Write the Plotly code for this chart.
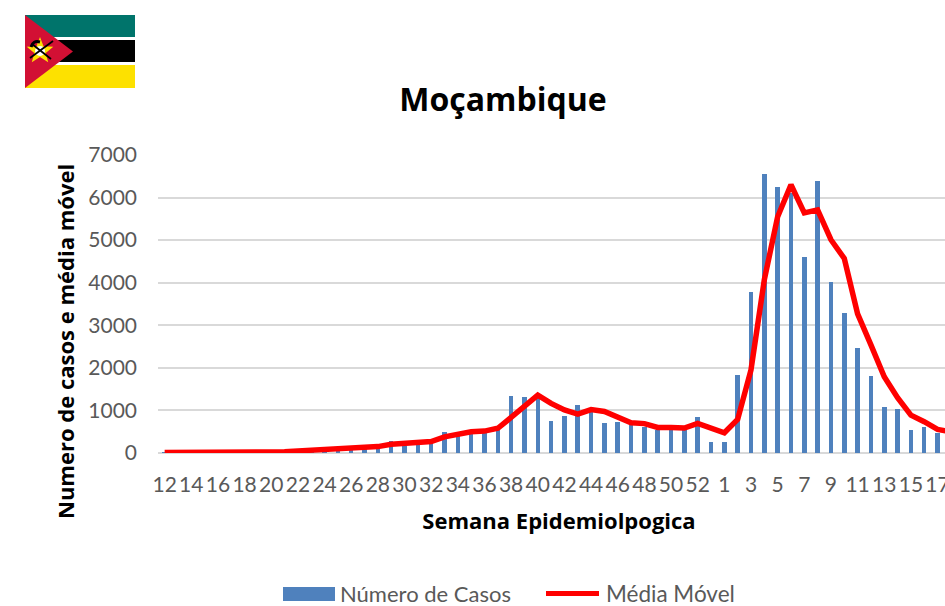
import base64
import plotly.graph_objects as go

weeks = list(range(12, 54)) + list(range(1, 19))
cases = [3, 3, 5, 5, 8, 10, 12, 10, 10, 15, 30, 50, 70, 110, 130, 140, 150, 280, 170, 225, 230,
         490, 420, 500, 500, 540, 1345, 1320, 1320, 760, 870, 1130, 970, 700, 735, 700, 600, 540,
         540, 540, 845, 260, 260, 1840, 3780, 6560, 6250, 6100, 4600, 6400, 4020, 3300, 2470,
         1800, 1080, 1040, 540, 600, 480, 400]
moving_avg = [10, 10, 15, 15, 20, 25, 30, 25, 25, 30, 50, 65, 85, 120, 140, 145, 150, 205, 220,
              245, 270, 380, 450, 500, 515, 580, 835, 1090, 1360, 1165, 1010, 915, 1020, 975, 835,
              710, 690, 600, 600, 585, 695, 580, 475, 790, 1950, 4070, 5550, 6300, 5640, 5710,
              5010, 4570, 3270, 2540, 1790, 1300, 890, 735, 555, 500]
positions = list(range(len(weeks)))
y_ticks = [0, 1000, 2000, 3000, 4000, 5000, 6000, 7000]
series_names = ["Número de Casos", "Média Móvel"]

FONT = "Lato, Carlito, Calibri, sans-serif"
BOLD = "'Open Sans', sans-serif"
GREY = "#595959"
W, H = 960, 606  # the page crops this to the 945 px window, as in the reference
ML, MR, MT, MB = 158, 0, 155, 153
PW, PH = W - ML - MR, H - MT - MB


def px(x):
    return (x - ML) / PW


def py(y):
    return (H - MB - y) / PH


flag_svg = """<svg xmlns='http://www.w3.org/2000/svg' viewBox='0 0 110 73' preserveAspectRatio='none'>
<rect width='110' height='73' fill='#fff'/>
<rect width='110' height='22' fill='#00746b'/>
<rect y='25' width='110' height='22' fill='#000'/>
<rect y='50' width='110' height='23' fill='#fde100'/>
<path d='M0 0L48 36.5L0 73Z' fill='#d21034'/>
<path d='M15 22L18.5 31.2L28.3 31.7L20.7 37.9L23.2 47.3L15 42L6.8 47.3L9.3 37.9L1.7 31.7L11.5 31.2Z' fill='#fde100'/>
<circle cx='15' cy='36' r='5' fill='#fff'/>
<path d='M5 43L28 26M7 29L26 44' stroke='#000' stroke-width='1.8'/>
<path d='M6 32Q8 25 15 27' stroke='#000' stroke-width='3' fill='none'/>
</svg>"""
flag_uri = "data:image/svg+xml;base64," + base64.b64encode(flag_svg.encode()).decode()

fig = go.Figure()
fig.add_bar(x=positions, y=cases, name=series_names[0], width=0.34,
            marker=dict(color="#4f81bd", line_width=0))
fig.add_scatter(x=positions, y=moving_avg, name=series_names[1], mode="lines",
                line=dict(color="#ff0000", width=5.5))

tick_idx = [i for i in positions if (i <= 41 and i % 2 == 0) or (i >= 42 and (i - 42) % 2 == 0)]

legend_shapes = [
    dict(type="rect", xref="paper", yref="paper", x0=px(283), x1=px(335), y0=py(587), y1=py(601),
         fillcolor="#4f81bd", line_width=0),
    dict(type="line", xref="paper", yref="paper", x0=px(546), x1=px(599), y0=py(593.5), y1=py(593.5),
         line=dict(color="#ff0000", width=5)),
]
text_notes = [
    dict(text=series_names[0], xref="paper", yref="paper", x=px(338), y=py(593), xanchor="left",
         yanchor="middle", showarrow=False, font=dict(size=22, color=GREY, family=FONT)),
    dict(text=series_names[1], xref="paper", yref="paper", x=px(604), y=py(593), xanchor="left",
         yanchor="middle", showarrow=False, font=dict(size=22.5, color=GREY, family=FONT)),
    dict(text="<b>Numero de casos e média móvel</b>", xref="paper", yref="paper", x=px(65), y=py(342),
         xanchor="center", yanchor="middle", textangle=-90, showarrow=False,
         font=dict(size=22, color="#000000", family=BOLD)),
]

fig.update_layout(
    width=W, height=H, autosize=False, showlegend=False,
    margin=dict(l=ML, r=MR, t=MT, b=MB, pad=0),
    paper_bgcolor="white", plot_bgcolor="white",
    font=dict(family=FONT, color=GREY, size=21),
    title=dict(text="<b>Moçambique</b>", x=503 / W, xanchor="center", y=1 - 100 / H, yanchor="middle",
               font=dict(size=32, color="#000000", family=BOLD)),
    bargap=0,
    shapes=legend_shapes,
    annotations=text_notes,
    xaxis=dict(range=[-0.5, (W - 165) / 13.32], tickmode="array", tickvals=[positions[i] for i in tick_idx],
               ticktext=[str(weeks[i]) for i in tick_idx], tickangle=0, showgrid=False,
               zeroline=False, showline=False, ticks="", ticklabelstandoff=17,
               ticklabeloverflow="allow",
               title=dict(text="<b>Semana Epidemiolpogica</b>", standoff=18,
                          font=dict(size=22, color="#000000", family=BOLD))),
    yaxis=dict(range=[0, 7000], tickmode="array", tickvals=y_ticks, showgrid=True, gridcolor="#d9d9d9",
               gridwidth=2, zeroline=True, zerolinecolor="#d9d9d9", zerolinewidth=2, ticks="",
               ticklabelstandoff=20),
    images=[dict(source=flag_uri, xref="paper", yref="paper",
                 x=px(25), y=py(15), sizex=110 / PW, sizey=73 / PH,
                 xanchor="left", yanchor="top", sizing="stretch", layer="above")],
)
fig.write_html("out.html", config={"displayModeBar": False},
               post_script="document.body.style.margin='0';document.body.style.overflow='hidden';")
